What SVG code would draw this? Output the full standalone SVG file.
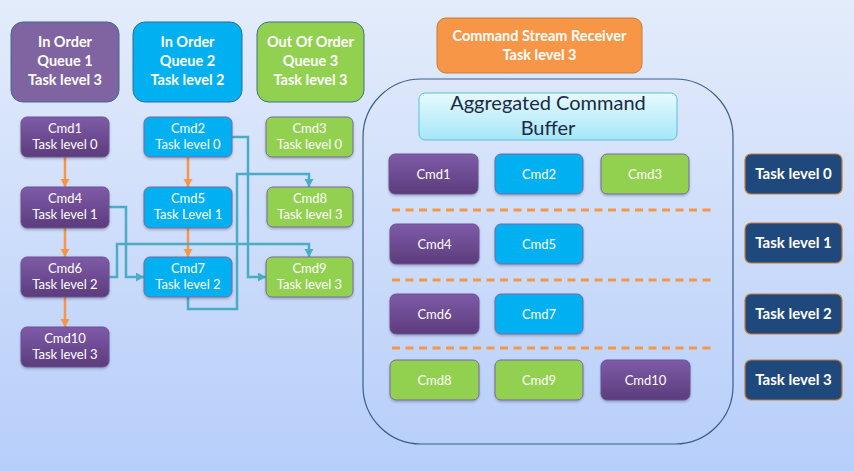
<svg xmlns="http://www.w3.org/2000/svg" width="854" height="471" viewBox="0 0 854 471">
<defs>
<linearGradient id="bg" x1="0" y1="0" x2="0" y2="1"><stop offset="0" stop-color="#e4ecfb"/><stop offset="1" stop-color="#b6cefa"/></linearGradient>
<linearGradient id="pur" x1="0" y1="0" x2="0" y2="1"><stop offset="0" stop-color="#7f5ba8"/><stop offset="1" stop-color="#5b3c7c"/></linearGradient>
<linearGradient id="agg" x1="0" y1="0" x2="0" y2="1"><stop offset="0" stop-color="#e6faff"/><stop offset="1" stop-color="#a6e6f8"/></linearGradient>
<marker id="at" markerUnits="userSpaceOnUse" markerWidth="10" markerHeight="10" refX="8" refY="4.5" orient="auto"><path d="M0,0 L8,4.5 L0,9 Z" fill="#4bacc6"/></marker>
<marker id="ao" markerUnits="userSpaceOnUse" markerWidth="10" markerHeight="10" refX="8" refY="4.5" orient="auto"><path d="M0,0 L8,4.5 L0,9 Z" fill="#f79646"/></marker>
<filter id="sh" x="-10%" y="-10%" width="120%" height="130%"><feDropShadow dx="0" dy="1.5" stdDeviation="1.2" flood-color="#000" flood-opacity="0.25"/></filter>
</defs>
<style>
text{font-family:"Lato","Open Sans","Liberation Sans",sans-serif;fill:#fff;text-anchor:middle}
.hd{font-size:14.5px;font-weight:bold}
.cm{font-size:13px}
.tl{font-size:15px;font-weight:bold}
.p{fill:url(#pur);stroke:#6c5494;stroke-width:1}
.b{fill:#00b0f0;stroke:#7b67a3;stroke-width:1}
.g{fill:#92d050;stroke:#7b67a3;stroke-width:1}
.hp{fill:#8064a2;stroke:#3a6d8e;stroke-width:1}
.hb{fill:#00b0f0;stroke:#2e6d9a;stroke-width:1}
.hg{fill:#92d050;stroke:#3f6f8a;stroke-width:1}
.box{filter:url(#sh)}
.ct{fill:none;stroke:#4bacc6;stroke-width:2.5}
.co{fill:none;stroke:#f79646;stroke-width:2.5}
.dash{stroke:#f79646;stroke-width:3;stroke-dasharray:8 5.5}
.lv{fill:#1f497d;stroke:#c77b35;stroke-width:1.2}
</style>
<rect width="854" height="471" fill="url(#bg)"/>

<g id="q1"><rect class="hp" x="11" y="22" width="108" height="80" rx="12"/><text class="hd" x="65" y="47">In Order</text><text class="hd" x="65" y="66">Queue 1</text><text class="hd" x="65" y="85">Task level 3</text></g>
<g id="q2"><rect class="hb" x="133" y="22" width="109" height="80" rx="12"/><text class="hd" x="187.5" y="47">In Order</text><text class="hd" x="187.5" y="66">Queue 2</text><text class="hd" x="187.5" y="85">Task level 2</text></g>
<g id="q3"><rect class="hg" x="257" y="22" width="107" height="80" rx="12"/><text class="hd" x="310.5" y="47">Out Of Order</text><text class="hd" x="310.5" y="66">Queue 3</text><text class="hd" x="310.5" y="85">Task level 3</text></g>
<g id="csr"><rect x="437" y="18" width="205" height="55" rx="9" fill="#f79646" stroke="#c47a3a" stroke-width="1"/><text class="hd" x="539.5" y="41">Command Stream Receiver</text><text class="hd" x="539.5" y="60">Task level 3</text></g>

<g id="connectors">
<path class="co" d="M65 157 V187" marker-end="url(#ao)"/>
<path class="co" d="M65 228 V257" marker-end="url(#ao)"/>
<path class="co" d="M65 297 V327" marker-end="url(#ao)"/>
<path class="co" d="M188 157 V187" marker-end="url(#ao)"/>
<path class="co" d="M188 228 V257" marker-end="url(#ao)"/>
<path class="ct" d="M232 137 H248 V277 H266" marker-end="url(#at)"/>
<path class="ct" d="M109 207 H126 V277 H144" marker-end="url(#at)"/>
<path class="ct" d="M109 277 H117 V244 H309 V257" marker-end="url(#at)"/>
<path class="ct" d="M188 297 V309 H237 V174 H309 V187" marker-end="url(#at)"/>
</g>

<g id="cmd1"><rect class="p box" x="21" y="117" width="88" height="40" rx="6"/><text class="cm" x="65" y="133">Cmd1</text><text class="cm" x="65" y="149">Task level 0</text></g>
<g id="cmd4"><rect class="p box" x="21" y="187" width="88" height="41" rx="6"/><text class="cm" x="65" y="203">Cmd4</text><text class="cm" x="65" y="219">Task level 1</text></g>
<g id="cmd6"><rect class="p box" x="21" y="257" width="88" height="40" rx="6"/><text class="cm" x="65" y="273">Cmd6</text><text class="cm" x="65" y="289">Task level 2</text></g>
<g id="cmd10"><rect class="p box" x="21" y="327" width="88" height="40" rx="6"/><text class="cm" x="65" y="343">Cmd10</text><text class="cm" x="65" y="359">Task level 3</text></g>
<g id="cmd2"><rect class="b box" x="144" y="117" width="88" height="40" rx="6"/><text class="cm" x="188" y="133">Cmd2</text><text class="cm" x="188" y="149">Task level 0</text></g>
<g id="cmd5"><rect class="b box" x="144" y="187" width="88" height="41" rx="6"/><text class="cm" x="188" y="203">Cmd5</text><text class="cm" x="188" y="219">Task Level 1</text></g>
<g id="cmd7"><rect class="b box" x="144" y="257" width="88" height="40" rx="6"/><text class="cm" x="188" y="273">Cmd7</text><text class="cm" x="188" y="289">Task level 2</text></g>
<g id="cmd3"><rect class="g box" x="266" y="117" width="87" height="40" rx="6"/><text class="cm" x="309.5" y="133">Cmd3</text><text class="cm" x="309.5" y="149">Task level 0</text></g>
<g id="cmd8"><rect class="g box" x="267" y="187" width="86" height="40" rx="6"/><text class="cm" x="310" y="203">Cmd8</text><text class="cm" x="310" y="219">Task level 3</text></g>
<g id="cmd9"><rect class="g box" x="266" y="257" width="87" height="40" rx="6"/><text class="cm" x="309.5" y="273">Cmd9</text><text class="cm" x="309.5" y="289">Task level 3</text></g>

<g id="acb">
<rect x="363" y="79" width="370" height="365" rx="58" fill="none" stroke="#3b5e8c" stroke-width="1.2"/>
<rect x="419" y="93" width="258" height="47" rx="6" fill="url(#agg)" stroke="#5bbfd8" stroke-width="1"/>
<text x="548" y="110" style="font-size:20px;fill:#1b2a45">Aggregated Command</text>
<text x="548" y="135" style="font-size:20px;fill:#1b2a45">Buffer</text>
<line class="dash" x1="392" y1="210" x2="716" y2="210"/>
<line class="dash" x1="392" y1="280" x2="716" y2="280"/>
<line class="dash" x1="392" y1="348" x2="716" y2="348"/>
</g>
<g id="a1"><rect class="p box" x="389" y="154" width="89" height="40" rx="6"/><text class="cm" x="433.5" y="178.5">Cmd1</text></g>
<g id="a2"><rect class="b box" x="495" y="154" width="88" height="40" rx="6"/><text class="cm" x="539" y="178.5">Cmd2</text></g>
<g id="a3"><rect class="g box" x="601" y="154" width="88" height="40" rx="6"/><text class="cm" x="645" y="178.5">Cmd3</text></g>
<g id="a4"><rect class="p box" x="390" y="224" width="89" height="40" rx="6"/><text class="cm" x="434.5" y="248.5">Cmd4</text></g>
<g id="a5"><rect class="b box" x="495" y="224" width="88" height="40" rx="6"/><text class="cm" x="539" y="248.5">Cmd5</text></g>
<g id="a6"><rect class="p box" x="390" y="294" width="89" height="40" rx="6"/><text class="cm" x="434.5" y="318.5">Cmd6</text></g>
<g id="a7"><rect class="b box" x="495" y="294" width="88" height="40" rx="6"/><text class="cm" x="539" y="318.5">Cmd7</text></g>
<g id="a8"><rect class="g box" x="390" y="360" width="89" height="40" rx="6"/><text class="cm" x="434.5" y="384.5">Cmd8</text></g>
<g id="a9"><rect class="g box" x="495" y="360" width="88" height="40" rx="6"/><text class="cm" x="539" y="384.5">Cmd9</text></g>
<g id="a10"><rect class="p box" x="601" y="360" width="89" height="40" rx="6"/><text class="cm" x="645.5" y="384.5">Cmd10</text></g>

<g id="tl0"><rect class="lv" x="745" y="154" width="97" height="40" rx="6"/><text class="tl" x="793.5" y="179">Task level 0</text></g>
<g id="tl1"><rect class="lv" x="745" y="223" width="97" height="40" rx="6"/><text class="tl" x="793.5" y="248">Task level 1</text></g>
<g id="tl2"><rect class="lv" x="745" y="294" width="97" height="40" rx="6"/><text class="tl" x="793.5" y="319">Task level 2</text></g>
<g id="tl3"><rect class="lv" x="745" y="360" width="97" height="40" rx="6"/><text class="tl" x="793.5" y="385">Task level 3</text></g>
</svg>
